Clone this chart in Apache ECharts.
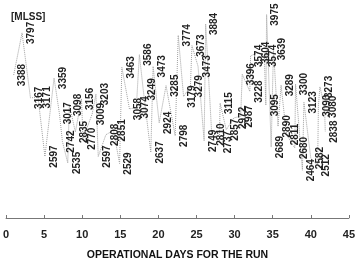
<!DOCTYPE html>
<html><head><meta charset="utf-8">
<script src="https://cdn.jsdelivr.net/npm/echarts@6/dist/echarts.min.js"></script>
<style>html,body{margin:0;padding:0;background:#fff}#c{width:358px;height:266px}</style>
</head><body><div id="c"></div>
<script>
const days = [1.0,2.1,3.2,4.2,5.1,6.3,7.0,7.4,8.1,8.3,9.1,9.9,10.1,11.3,11.8,12.1,13.1,14.1,14.9,15.2,16.2,17.1,17.5,18.0,19.0,19.3,20.1,21.0,22.2,22.6,23.3,24.2,24.4,25.2,26.0,26.2,27.0,28.0,28.1,28.9,29.9,30.8,31.0,32.0,32.1,33.0,33.9,34.1,34.2,34.8,35.1,35.7,36.1,36.8,37.9,38.0,38.9,39.1,40.0,40.9,41.0,41.2,41.8,41.9];
const mlss = [3388,3797,3167,3171,2597,3359,3017,2742,2535,3098,2835,3156,2770,3009,3203,2597,2808,2851,2529,3463,3058,3074,3586,3249,2637,3473,2924,3285,2798,3774,3179,3279,3673,3473,2749,3884,2810,2737,3115,2857,2972,2987,3396,3228,3574,3604,3574,3095,3975,2689,3639,2890,3289,2811,2680,3300,2464,3123,2582,2512,3090,3273,3080,2838];
const xTicks = [0,5,10,15,20,25,30,35,40,45];
const xTitle = 'OPERATIONAL DAYS FOR THE RUN';
const yTitle = '[MLSS]';

const chart = echarts.init(document.getElementById('c'), null, {renderer:'canvas'});
chart.setOption({
  animation:false,
  backgroundColor:'#fff',
  grid:{left:2,right:6,top:12,bottom:47},
  title:{text:yTitle,left:6,top:7,textStyle:{fontSize:10,fontWeight:'bold',color:'#222',fontFamily:'Liberation Sans'}},
  xAxis:{type:'value',min:xTicks[0],max:xTicks[xTicks.length-1],interval:5,
    name:xTitle,nameLocation:'middle',nameGap:32,
    nameTextStyle:{fontSize:10.5,fontWeight:'bold',color:'#111',fontFamily:'Liberation Sans'},
    axisLine:{lineStyle:{color:'#777',width:1}},
    axisTick:{inside:true,length:3,lineStyle:{color:'#777'}},
    axisLabel:{fontSize:11,fontWeight:'bold',color:'#222',margin:11,fontFamily:'Liberation Sans'},
    splitLine:{show:false}},
  yAxis:{type:'value',min:2000,max:4000,show:false},
  series:[{
    type:'line',
    data:days.map((d,i)=>[d,mlss[i]]),
    symbol:'circle',symbolSize:2,
    itemStyle:{color:'rgba(0,0,0,0)'},
    lineStyle:{type:'dotted',width:1,color:'#a0a0a0'},
    label:{show:true,position:'right',distance:3,rotate:90,align:'center',verticalAlign:'top',
      fontSize:10,fontWeight:'bold',color:'#222',fontFamily:'Liberation Sans',
      formatter:p=>String(p.value[1])},
    labelLayout:{hideOverlap:false}
  }]
});
</script></body></html>
